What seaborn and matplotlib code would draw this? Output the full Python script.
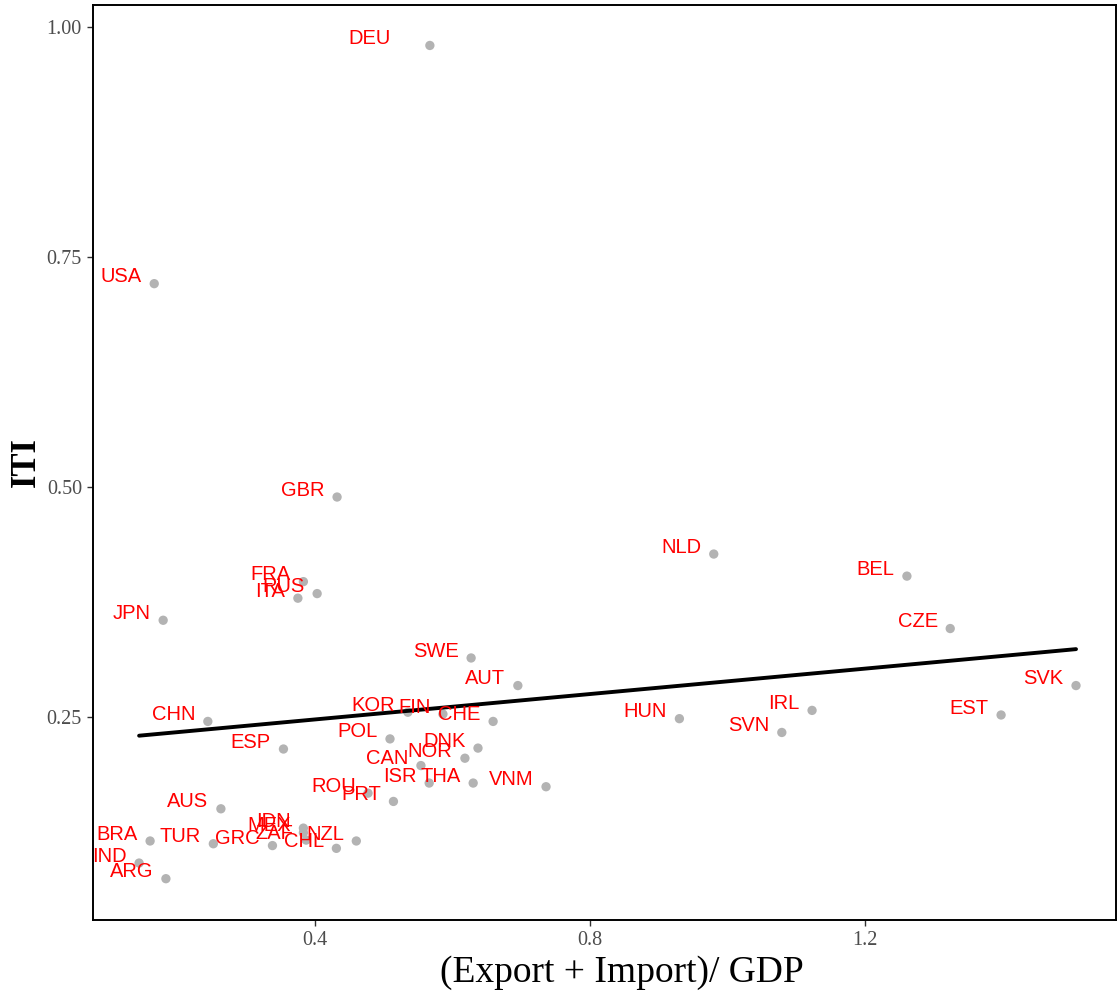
import pandas as pd
import matplotlib.pyplot as plt
import seaborn as sns

countries = ['DEU', 'USA', 'GBR', 'NLD', 'BEL', 'CZE', 'FRA', 'ITA', 'RUS', 'JPN',
             'SWE', 'AUT', 'SVK', 'EST', 'IRL', 'HUN', 'SVN', 'CHN', 'ESP', 'KOR',
             'FIN', 'CHE', 'POL', 'DNK', 'NOR', 'CAN', 'ISR', 'THA', 'VNM', 'PRT',
             'ROU', 'AUS', 'BRA', 'TUR', 'GRC', 'ZAF', 'MEX', 'IDN', 'CHL', 'NZL',
             'IND', 'ARG']
trade = [0.567, 0.166, 0.432, 0.980, 1.261, 1.324, 0.383, 0.375, 0.403, 0.179,
         0.627, 0.695, 1.507, 1.398, 1.123, 0.930, 1.079, 0.244, 0.354, 0.535,
         0.586, 0.659, 0.509, 0.637, 0.618, 0.554, 0.566, 0.630, 0.736, 0.514,
         0.477, 0.263, 0.160, 0.252, 0.338, 0.387, 0.383, 0.383, 0.431, 0.460,
         0.144, 0.183]
iti = [0.980, 0.721, 0.489, 0.427, 0.403, 0.346, 0.397, 0.379, 0.384, 0.355,
       0.314, 0.284, 0.284, 0.252, 0.257, 0.248, 0.233, 0.245, 0.215, 0.255,
       0.253, 0.245, 0.226, 0.216, 0.205, 0.197, 0.178, 0.178, 0.174, 0.158,
       0.167, 0.150, 0.115, 0.112, 0.110, 0.116, 0.124, 0.129, 0.107, 0.115,
       0.091, 0.074]

df = pd.DataFrame({'country': countries, 'trade': trade, 'iti': iti})

sns.set_style("ticks")
serif = ['Liberation Serif', 'DejaVu Serif']

fig = plt.figure(figsize=(11.17, 9.99), dpi=100)
ax = fig.add_axes([0.0833, 0.079, 0.9157, 0.916])

sns.scatterplot(data=df, x='trade', y='iti', color='#b3b3b3', s=45,
                edgecolor='none', ax=ax, zorder=2)
sns.regplot(data=df, x='trade', y='iti', scatter=False, ci=None, color='black',
            line_kws={'linewidth': 2.8}, ax=ax)

# label offsets in points (DEU sits further left in the original)
offsets = {'DEU': (-28, 5)}
for c, xv, yv in zip(countries, trade, iti):
    ax.annotate(c, (xv, yv), xytext=offsets.get(c, (-9, 5)), textcoords='offset points',
                ha='right', va='center', color='red', fontsize=14.5,
                family=['Liberation Sans', 'DejaVu Sans'], zorder=3)

ax.set_xlim(0.077, 1.565)
ax.set_ylim(0.029, 1.024)
ax.set_xticks([0.4, 0.8, 1.2])
ax.set_xticklabels(['0.4', '0.8', '1.2'])
ax.set_yticks([0.25, 0.50, 0.75, 1.00])
ax.set_yticklabels(['0.25', '0.50', '0.75', '1.00'])
for lab in ax.get_xticklabels() + ax.get_yticklabels():
    lab.set_family(serif)
    lab.set_fontsize(14.5)
    lab.set_color('#4d4d4d')
ax.tick_params(length=4, width=1, color='#333333', pad=4)

ax.set_xlabel('(Export + Import)/ GDP', family=serif, fontsize=27, color='black')
ax.xaxis.set_label_coords(0.517, -0.039, transform=ax.transAxes)
ax.xaxis.label.set_va('top')
ax.set_ylabel('ITI', family=serif, fontsize=25, fontweight='bold', labelpad=3,
              color='black')

for sp in ax.spines.values():
    sp.set_linewidth(1.4)
    sp.set_color('black')

fig.savefig('out.png', dpi=100)
